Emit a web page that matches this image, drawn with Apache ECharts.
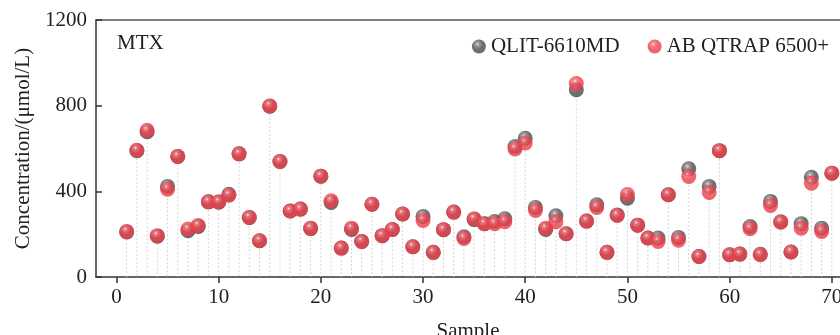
<!DOCTYPE html>
<html>
<head>
<meta charset="utf-8">
<script src="https://cdn.jsdelivr.net/npm/echarts@6/dist/echarts.min.js"></script>
<style>
  html, body { margin: 0; padding: 0; background: #fff; }
  #chart { width: 840px; height: 335px; }
</style>
</head>
<body>
<div id="chart"></div>
<script>
// sample numbers 1..70
var samples = [];
for (var i = 1; i <= 70; i++) samples.push(i);

// QLIT-6610MD (dark balls)
var qlit = [210, 590, 678, 190, 423, 563, 216, 236, 351, 349,
            386, 575, 278, 169, 797, 539, 308, 317, 226, 471,
            348, 135, 222, 166, 340, 193, 222, 294, 141, 283,
            115, 221, 303, 188, 268, 249, 259, 272, 609, 648,
            325, 222, 286, 202, 874, 261, 337, 115, 290, 368,
            242, 182, 182, 384, 185, 505, 96, 423, 590, 104,
            107, 236, 106, 353, 258, 117, 249, 466, 228, 485];

// AB QTRAP 6500+ (red balls)
var qtrap = [213, 592, 685, 193, 410, 563, 224, 241, 351, 351,
             382, 575, 278, 169, 799, 539, 308, 317, 228, 471,
             356, 135, 228, 166, 340, 193, 222, 294, 141, 264,
             115, 221, 303, 180, 272, 249, 249, 258, 598, 626,
             311, 228, 258, 202, 903, 261, 325, 115, 287, 385,
             242, 182, 166, 384, 172, 469, 96, 395, 590, 104,
             107, 225, 104, 334, 256, 117, 228, 438, 213, 485];

var xTicks = [0, 10, 20, 30, 40, 50, 60, 70];

var fontFamily = "'Liberation Serif', 'DejaVu Serif', serif";

function ball(hi, mid, body, edge) {
  return new echarts.graphic.RadialGradient(0.4, 0.33, 0.72, [
    { offset: 0, color: hi },
    { offset: 0.15, color: mid },
    { offset: 0.5, color: body },
    { offset: 0.85, color: body },
    { offset: 1, color: edge }
  ]);
}

var chart = echarts.init(document.getElementById("chart"));

var qlitData = samples.map(function (s, i) { return [s, qlit[i]]; });
var qtrapData = samples.map(function (s, i) { return [s, qtrap[i]]; });
var dropData = samples.map(function (s, i) { return [s, Math.max(qlit[i], qtrap[i])]; });

var option = {
  animation: false,
  textStyle: { fontFamily: fontFamily },
  grid: { left: 96, top: 20, right: 0, bottom: 58, outerBoundsMode: "none", containLabel: false },
  graphic: [{
    type: "text",
    left: 117,
    top: 33,
    style: { text: "MTX", fontSize: 21, fontFamily: fontFamily, fill: "#222" }
  }],
  legend: {
    orient: "horizontal",
    right: 6,
    top: 31,
    width: 420,
    itemWidth: 14,
    itemHeight: 14,
    itemGap: 28,
    textStyle: { fontSize: 21, color: "#222", fontFamily: fontFamily },
    data: [
      { name: "QLIT-6610MD", icon: "circle" },
      { name: "AB QTRAP 6500+", icon: "circle" }
    ]
  },
  xAxis: [{
    type: "value",
    min: -2,
    max: 70.8,
    name: "Sample",
    nameLocation: "middle",
    nameGap: 44,
    nameTextStyle: { fontSize: 21, color: "#222", fontFamily: fontFamily },
    splitLine: { show: false },
    axisLine: { onZero: false, lineStyle: { color: "#333", width: 1.5 } },
    axisTick: { customValues: xTicks, length: 6, lineStyle: { color: "#333", width: 1.5 } },
    axisLabel: { customValues: xTicks, fontSize: 21, color: "#222", margin: 10, fontFamily: fontFamily }
  }, {
    type: "value",
    position: "top",
    min: -2,
    max: 70.8,
    splitLine: { show: false },
    axisLine: { onZero: false, lineStyle: { color: "#555", width: 1.5 } },
    axisTick: { show: false },
    axisLabel: { show: false }
  }],
  yAxis: {
    type: "value",
    min: 0,
    max: 1200,
    interval: 400,
    name: "Concentration/(μmol/L)",
    nameLocation: "middle",
    nameGap: 62,
    nameTextStyle: { fontSize: 21, color: "#222", fontFamily: fontFamily },
    splitLine: { show: false },
    axisLine: { show: true, onZero: false, lineStyle: { color: "#333", width: 1.5 } },
    axisTick: { show: true, inside: true, length: 6, lineStyle: { color: "#333", width: 1.5 } },
    axisLabel: {
      fontSize: 21, color: "#222", margin: 9, fontFamily: fontFamily,
      formatter: function (v) { return String(v); }
    }
  },
  series: [
    {
      name: "drop",
      type: "custom",
      z: 1,
      silent: true,
      data: dropData,
      renderItem: function (params, api) {
        var top = api.coord([api.value(0), api.value(1)]);
        var bot = api.coord([api.value(0), 0]);
        return {
          type: "line",
          shape: { x1: top[0], y1: top[1], x2: bot[0], y2: bot[1] },
          style: { stroke: "#d6d6d6", lineWidth: 1, lineDash: [2, 2] }
        };
      }
    },
    {
      name: "QLIT-6610MD",
      type: "scatter",
      z: 2,
      symbolSize: 15,
      data: qlitData,
      itemStyle: { color: ball("#e6e6e6", "#8c8c8c", "#4c4c4c", "#2a2a2a") }
    },
    {
      name: "AB QTRAP 6500+",
      type: "scatter",
      z: 3,
      symbolSize: 15,
      data: qtrapData,
      itemStyle: { color: ball("#fff4f5", "#f77079", "#ec3f4b", "#d0303b") }
    }
  ]
};

chart.setOption(option);
</script>
</body>
</html>
